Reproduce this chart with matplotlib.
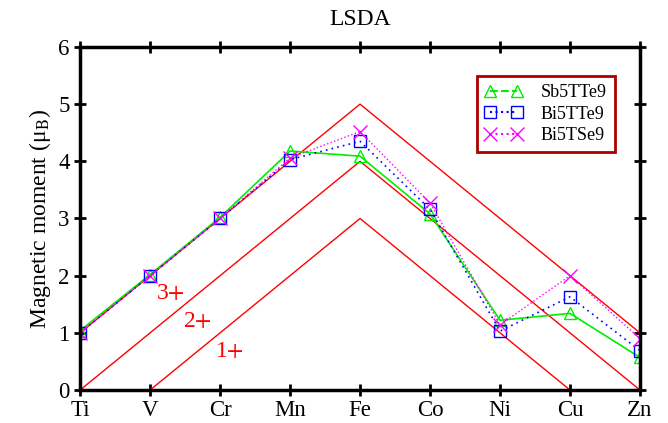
import matplotlib.pyplot as plt
from matplotlib.lines import Line2D

plt.rcParams['font.family'] = ['Liberation Serif', 'DejaVu Serif']
plt.rcParams['mathtext.fontset'] = 'stix'

elements = ["Ti", "V", "Cr", "Mn", "Fe", "Co", "Ni", "Cu", "Zn"]
x = list(range(len(elements)))

sb5tte9 = [1.04, 2.02, 3.02, 4.18, 4.09, 3.08, 1.22, 1.34, 0.57]
bi5tte9 = [1.00, 2.00, 3.00, 4.03, 4.35, 3.16, 1.03, 1.63, 0.69]
bi5tse9 = [1.00, 2.00, 3.00, 4.06, 4.52, 3.27, 1.14, 2.00, 0.90]

# ionic spin-only reference lines
ion_3p = [1, 2, 3, 4, 5, 4, 3, 2, 1]
ion_2p = [0, 1, 2, 3, 4, 3, 2, 1, 0]
ion_1p_x = [1, 2, 3, 4, 5, 6, 7]
ion_1p = [0, 1, 2, 3, 2, 1, 0]

fig = plt.figure(figsize=(6.68, 4.23), dpi=100)
ax = fig.add_axes([0.12, 0.078, 0.838, 0.811])

ax.plot(x, ion_3p, color="red", lw=1.0)
ax.plot(x, ion_2p, color="red", lw=1.0)
ax.plot(ion_1p_x, ion_1p, color="red", lw=1.0)
ax.text(1.08, 1.6, "3$\\mathrm{+}$", color="red", fontsize=17)
ax.text(1.47, 1.1, "2$\\mathrm{+}$", color="red", fontsize=17)
ax.text(1.93, 0.57, "1$\\mathrm{+}$", color="red", fontsize=17)

ax.plot(x, sb5tte9, color="#00ee00", lw=1.2, marker="^", ms=9,
        mfc="none", mec="#00ee00")
ax.plot(x, bi5tte9, color="blue", lw=1.2, ls=(0, (1, 2.5)), marker="s", ms=9,
        mfc="none", mec="blue")
ax.plot(x, bi5tse9, color="magenta", lw=1.0, ls=":", marker="x", ms=10,
        mec="magenta")

handles = [
    Line2D([], [], color="#00ee00", ls="--", marker="^", ms=9, mfc="none"),
    Line2D([], [], color="blue", ls=":", marker="s", ms=9, mfc="none"),
    Line2D([], [], color="magenta", ls=":", marker="x", ms=10),
]
leg = ax.legend(handles, ["Sb5TTe9", "Bi5TTe9", "Bi5TSe9"], loc="upper right",
                bbox_to_anchor=(0.955, 0.915), fontsize=13, fancybox=False,
                framealpha=1, borderpad=0.45, handlelength=2.1, numpoints=2,
                labelspacing=0.25, handletextpad=1.0, borderaxespad=0)
leg.get_frame().set_edgecolor("#aa0000")
leg.get_frame().set_linewidth(2)

ax.set_xlim(0, 8)
ax.set_ylim(0, 6)
ax.set_xticks(x)
ax.set_xticklabels(elements)
ax.set_yticks(range(7))
ax.tick_params(direction="inout", length=9, width=2, labelsize=16.5,
               top=True, right=True, pad=3)
for s in ax.spines.values():
    s.set_linewidth(2.5)

ax.set_ylabel("Magnetic moment (μ$_\\mathrm{B}$)", fontsize=17)
ax.set_title("LSDA", fontsize=17, pad=16)

fig.savefig("out.png", dpi=100)
